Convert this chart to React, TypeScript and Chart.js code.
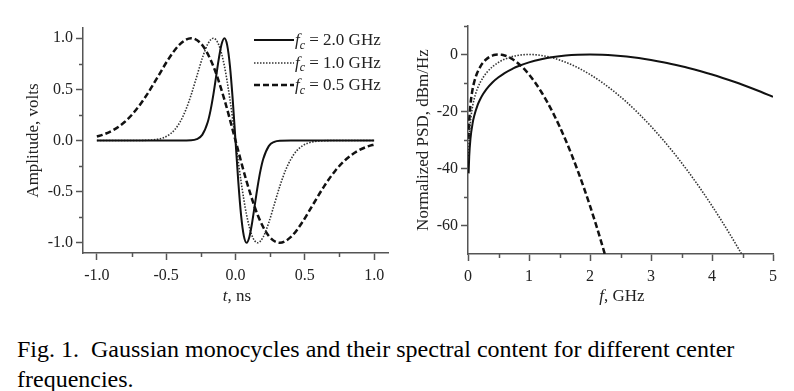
import React, { useEffect, useRef } from "react";
import { Chart, registerables } from "chart.js";

Chart.register(...registerables);

const FONT = '"Liberation Serif", "Times New Roman", Times, serif';
const AXIS_COLOR = "#555";
const TEXT_COLOR = "#222";

// ---- Left panel: Gaussian monocycles (t in ns, amplitude in volts) ----
const t2GHz = [-1.0, -0.4, -0.32, -0.28, -0.24, -0.2, -0.18, -0.16, -0.14, -0.12, -0.1, -0.08, -0.06, -0.04, -0.02, 0, 0.02, 0.04, 0.06, 0.08, 0.1, 0.12, 0.14, 0.16, 0.18, 0.2, 0.24, 0.28, 0.32, 0.4, 1.0];
const v2GHz = [0, 0, 0.002, 0.013, 0.055, 0.181, 0.295, 0.446, 0.624, 0.803, 0.943, 1.0, 0.933, 0.728, 0.4, 0, -0.4, -0.728, -0.933, -1.0, -0.943, -0.803, -0.624, -0.446, -0.295, -0.181, -0.055, -0.013, -0.002, 0, 0];

const t1GHz = [-1.0, -0.72, -0.64, -0.6, -0.56, -0.52, -0.48, -0.44, -0.4, -0.36, -0.32, -0.28, -0.24, -0.2, -0.16, -0.12, -0.08, -0.04, 0, 0.04, 0.08, 0.12, 0.16, 0.2, 0.24, 0.28, 0.32, 0.36, 0.4, 0.44, 0.48, 0.52, 0.56, 0.6, 0.64, 0.72, 1.0];
const v1GHz = [0, 0.0003, 0.002, 0.0055, 0.013, 0.027, 0.055, 0.103, 0.181, 0.295, 0.446, 0.624, 0.803, 0.943, 1.0, 0.933, 0.728, 0.4, 0, -0.4, -0.728, -0.933, -1.0, -0.943, -0.803, -0.624, -0.446, -0.295, -0.181, -0.103, -0.055, -0.027, -0.013, -0.0055, -0.002, -0.0003, 0];

const t05GHz = [-1.0, -0.96, -0.88, -0.8, -0.72, -0.64, -0.56, -0.48, -0.4, -0.32, -0.24, -0.16, -0.08, 0, 0.08, 0.16, 0.24, 0.32, 0.4, 0.48, 0.56, 0.64, 0.72, 0.8, 0.88, 0.96, 1.0];
const v05GHz = [0.039, 0.055, 0.103, 0.181, 0.295, 0.446, 0.624, 0.803, 0.943, 1.0, 0.933, 0.728, 0.4, 0, -0.4, -0.728, -0.933, -1.0, -0.943, -0.803, -0.624, -0.446, -0.295, -0.181, -0.103, -0.055, -0.039];

// ---- Right panel: normalized PSD (f in GHz, dBm/Hz) ----
const f2GHz = [0.01, 0.02, 0.04, 0.08, 0.1, 0.16, 0.2, 0.25, 0.3, 0.4, 0.5, 0.6, 0.75, 0.8, 1.0, 1.2, 1.4, 1.6, 1.8, 2.0, 2.2, 2.4, 2.6, 2.8, 3.0, 3.2, 3.5, 3.6, 4.0, 4.4, 4.5, 4.8, 5.0];
const p2GHz = [-41.7, -35.7, -29.6, -23.6, -21.7, -17.6, -15.7, -13.8, -12.2, -9.8, -8.0, -6.5, -4.8, -4.3, -2.76, -1.66, -0.88, -0.37, -0.09, 0, -0.08, -0.33, -0.72, -1.25, -1.91, -2.69, -4.1, -4.62, -7.01, -9.83, -10.6, -13.07, -14.84];

const f1GHz = [0.01, 0.02, 0.04, 0.05, 0.08, 0.1, 0.125, 0.15, 0.2, 0.25, 0.3, 0.4, 0.5, 0.6, 0.7, 0.8, 0.9, 1.0, 1.1, 1.2, 1.3, 1.4, 1.5, 1.6, 1.8, 2.0, 2.2, 2.4, 2.5, 2.6, 2.8, 3.0, 3.2, 3.4, 3.6, 3.8, 4.0, 4.2, 4.4, 4.5];
const p1GHz = [-35.7, -29.6, -23.6, -21.7, -17.6, -15.7, -13.8, -12.2, -9.8, -8.0, -6.5, -4.3, -2.76, -1.66, -0.88, -0.37, -0.09, 0, -0.08, -0.33, -0.72, -1.25, -1.91, -2.69, -4.62, -7.01, -9.83, -13.07, -14.84, -16.71, -20.76, -25.2, -30.03, -35.23, -40.81, -46.77, -53.11, -59.81, -66.87, -70.54];

const f05GHz = [0.01, 0.02, 0.025, 0.04, 0.05, 0.075, 0.1, 0.125, 0.15, 0.2, 0.25, 0.3, 0.35, 0.4, 0.45, 0.5, 0.55, 0.6, 0.65, 0.7, 0.75, 0.8, 0.9, 1.0, 1.1, 1.2, 1.25, 1.3, 1.4, 1.5, 1.6, 1.7, 1.8, 1.9, 2.0, 2.1, 2.2, 2.25];
const p05GHz = [-29.6, -23.6, -21.7, -17.6, -15.7, -12.2, -9.8, -8.0, -6.5, -4.3, -2.76, -1.66, -0.88, -0.37, -0.09, 0, -0.08, -0.33, -0.72, -1.25, -1.91, -2.69, -4.62, -7.01, -9.83, -13.07, -14.84, -16.71, -20.76, -25.2, -30.03, -35.23, -40.81, -46.77, -53.11, -59.81, -66.87, -70.54];

// ---- Series / ticks / text ----
const seriesFreqs = ["2.0", "1.0", "0.5"];
const leftXTicks = [-1.0, -0.5, 0, 0.5, 1.0];
const leftYTicks = [-1.0, -0.5, 0, 0.5, 1.0];
const rightXTicks = [0, 1, 2, 3, 4, 5];
const rightYTicks = [-60, -40, -20, 0];
const leftXTitle = { sym: "t", unit: ", ns" };
const leftYTitle = "Amplitude, volts";
const rightXTitle = { sym: "f", unit: ", GHz" };
const rightYTitle = "Normalized PSD, dBm/Hz";
const captionLine1 = "Fig. 1.  Gaussian monocycles and their spectral content for different center";
const captionLine2 = "frequencies.";

const seriesStyles = [
  { color: "#111", width: 2, dash: [] as number[] },
  { color: "#333", width: 1.6, dash: [1.5, 1.5] },
  { color: "#111", width: 2.5, dash: [6, 3] },
];

const toPoints = (xs: number[], ys: number[]) => xs.map((x, i) => ({ x, y: ys[i] }));

const MINOR_LEN = 4;
const minorTicksPlugin = {
  id: "minorTicks",
  afterDraw(chart: any) {
    const ctx = chart.ctx;
    const area = chart.chartArea;
    ["x", "y"].forEach((id) => {
      const s = chart.scales[id];
      const vals = s.ticks.map((t: any) => t.value);
      if (vals.length < 2) return;
      const step = vals[1] - vals[0];
      const minor: number[] = [];
      for (let v = vals[0] - step / 2; v <= s.max + 1e-9; v += step) {
        if (v > s.min + 1e-9) minor.push(v);
      }
      ctx.save();
      ctx.strokeStyle = AXIS_COLOR;
      ctx.lineWidth = 1.5;
      minor.forEach((v) => {
        const p = Math.round(s.getPixelForValue(v)) + 0.5;
        ctx.beginPath();
        if (id === "x") {
          ctx.moveTo(p, area.bottom);
          ctx.lineTo(p, area.bottom + MINOR_LEN);
        } else {
          ctx.moveTo(area.left, p);
          ctx.lineTo(area.left - MINOR_LEN, p);
        }
        ctx.stroke();
      });
      ctx.restore();
    });
  },
};

function makeAxis(opts: {
  ticks: number[];
  min: number;
  max: number;
  title: string;
  fmt: (v: number) => string;
  horizontal: boolean;
  size: number;
  titleOffset: number;
}) {
  const font = { family: FONT, size: 16 };
  return {
    type: "linear" as const,
    min: opts.min,
    max: opts.max,
    afterBuildTicks: (s: any) => {
      s.ticks = opts.ticks.map((v) => ({ value: v }));
    },
    afterFit: (s: any) => {
      if (opts.horizontal) s.height = opts.size;
      else s.width = opts.size;
    },
    ticks: {
      font,
      color: TEXT_COLOR,
      padding: opts.horizontal ? 6 : 3,
      maxRotation: 0,
      autoSkip: false,
      callback: (v: any) => opts.fmt(Number(v)),
    },
    grid: {
      display: true,
      drawOnChartArea: false,
      drawTicks: true,
      tickLength: 7,
      tickColor: AXIS_COLOR,
      tickWidth: 1.5,
    },
    border: { display: true, color: AXIS_COLOR, width: 1.5 },
    title: {
      display: opts.title !== "",
      text: opts.title,
      font: { family: FONT, size: 17 },
      color: TEXT_COLOR,
      padding: { top: opts.titleOffset, bottom: 0 },
    },
  };
}

function PlotCanvas({ config, width, height, left }: { config: any; width: number; height: number; left: number }) {
  const ref = useRef<HTMLCanvasElement | null>(null);
  useEffect(() => {
    if (!ref.current) return;
    const chart = new Chart(ref.current, config);
    return () => chart.destroy();
  }, []);
  return (
    <canvas
      ref={ref}
      width={width}
      height={height}
      style={{ position: "absolute", left, top: 0, width, height }}
    />
  );
}

function baseOptions(padding: any, scales: any) {
  return {
    type: "line",
    options: {
      responsive: false,
      animation: false,
      events: [],
      layout: { padding },
      plugins: { legend: { display: false }, tooltip: { enabled: false }, title: { display: false } },
      elements: { point: { radius: 0 }, line: { cubicInterpolationMode: "monotone" } },
      scales,
    },
    plugins: [minorTicksPlugin],
  };
}

function makeDatasets(pairs: [number[], number[]][]) {
  return pairs.map(([xs, ys], i) => ({
    label: seriesFreqs[i] + " GHz",
    data: toPoints(xs, ys),
    borderColor: seriesStyles[i].color,
    borderWidth: seriesStyles[i].width,
    borderDash: seriesStyles[i].dash,
    pointRadius: 0,
    fill: false,
  }));
}

function XTitle({ cx, cy, title }: { cx: number; cy: number; title: { sym: string; unit: string } }) {
  return (
    <div
      style={{
        position: "absolute",
        left: cx,
        top: cy,
        transform: "translate(-50%, -50%)",
        fontFamily: FONT,
        fontSize: 17,
        color: TEXT_COLOR,
        whiteSpace: "pre",
      }}
    >
      <i>{title.sym}</i>
      {title.unit}
    </div>
  );
}

export default function App() {
  const leftCfg: any = baseOptions(
    { top: 28, right: 12, left: 0, bottom: 0 },
    {
      x: makeAxis({ ticks: leftXTicks, min: -1.1, max: 1.1, title: "", fmt: (v) => v.toFixed(1), horizontal: true, size: 57, titleOffset: 0 }),
      y: makeAxis({ ticks: leftYTicks, min: -1.1, max: 1.1, title: leftYTitle, fmt: (v) => v.toFixed(1), horizontal: false, size: 83, titleOffset: 23 }),
    }
  );
  leftCfg.data = {
    datasets: makeDatasets([
      [t2GHz, v2GHz],
      [t1GHz, v1GHz],
      [t05GHz, v05GHz],
    ]),
  };

  const rightCfg: any = baseOptions(
    { top: 26, right: 21, left: 0, bottom: 0 },
    {
      x: makeAxis({ ticks: rightXTicks, min: 0, max: 5, title: "", fmt: (v) => String(v), horizontal: true, size: 56, titleOffset: 0 }),
      y: makeAxis({ ticks: rightYTicks, min: -70, max: 10, title: rightYTitle, fmt: (v) => String(v), horizontal: false, size: 78, titleOffset: 23 }),
    }
  );
  rightCfg.data = {
    datasets: makeDatasets([
      [f2GHz, p2GHz],
      [f1GHz, p1GHz],
      [f05GHz, p05GHz],
    ]),
  };

  return (
    <div style={{ position: "fixed", left: 0, top: 0, width: 794, height: 391, background: "#fff", overflow: "hidden" }}>
      <PlotCanvas config={leftCfg} width={400} height={310} left={0} />
      <PlotCanvas config={rightCfg} width={404} height={310} left={390} />
      <XTitle cx={237} cy={296} title={leftXTitle} />
      <XTitle cx={622} cy={296} title={rightXTitle} />
      <div style={{ position: "absolute", left: 254, top: 29, fontFamily: FONT, fontSize: 17, color: TEXT_COLOR }}>
        {seriesFreqs.map((f, i) => (
          <div key={f} style={{ display: "flex", alignItems: "center", height: 22.5, whiteSpace: "pre" }}>
            <svg width={40} height={6} style={{ display: "block" }}>
              <line
                x1={0}
                y1={3}
                x2={40}
                y2={3}
                stroke={seriesStyles[i].color}
                strokeWidth={seriesStyles[i].width}
                strokeDasharray={seriesStyles[i].dash.join(" ")}
              />
            </svg>
            <span style={{ marginLeft: 1 }}>
              <i>f</i>
              <i style={{ fontSize: "0.7em", position: "relative", top: "0.3em" }}>c</i>
              {" = " + f + " GHz"}
            </span>
          </div>
        ))}
      </div>
      <div style={{ position: "absolute", left: 17, top: 334, fontFamily: FONT, fontSize: 24, lineHeight: "30px", color: "#000", whiteSpace: "pre" }}>
        {captionLine1}
      </div>
      <div style={{ position: "absolute", left: 17, top: 364, fontFamily: FONT, fontSize: 24, lineHeight: "30px", color: "#000", whiteSpace: "pre" }}>
        {captionLine2}
      </div>
    </div>
  );
}
